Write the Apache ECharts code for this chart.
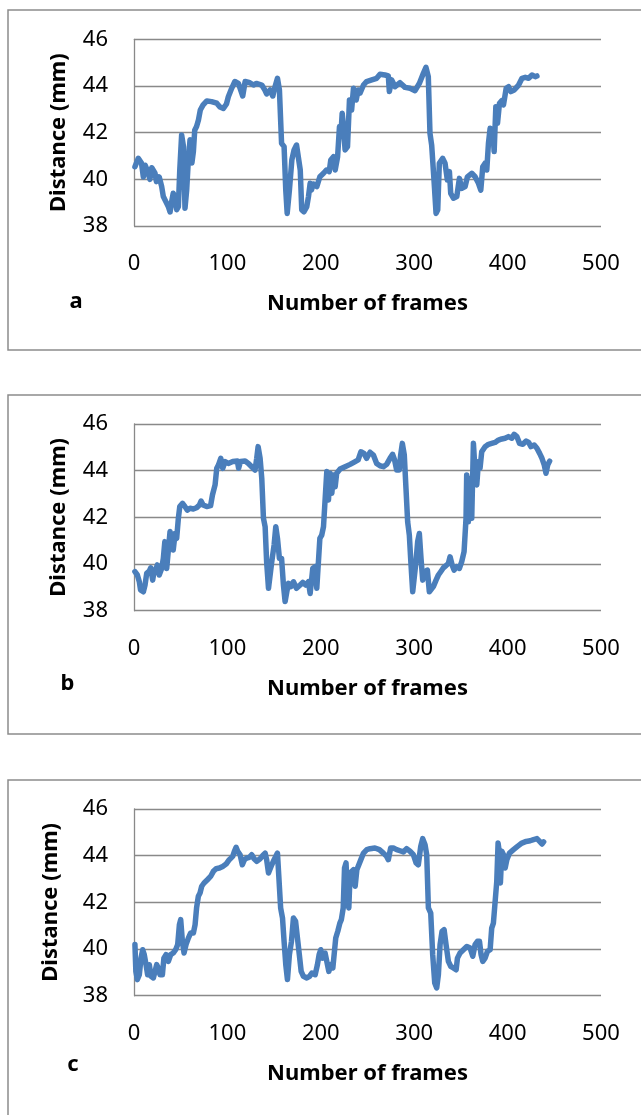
<!DOCTYPE html>
<html>
<head>
<meta charset="utf-8">
<script src="https://cdn.jsdelivr.net/npm/echarts@6/dist/echarts.min.js"></script>
<style>
html,body{margin:0;padding:0;background:#fff;}
#chart{width:641px;height:1115px;}
</style>
</head>
<body>
<div id="chart"></div>
<script>
// ---------- data ----------
const panelLetters = ['a', 'b', 'c'];
const xTitle = 'Number of frames';
const yTitle = 'Distance (mm)';
const xTicks = [0, 100, 200, 300, 400, 500];
const yTicks = [38, 40, 42, 44, 46];

const framesA = [1,4.6,8,10,12,15,17,19,22.5,24,27,29.6,31.4,33,35,36.8,38.6,40,42,44,45.7,47.5,49,51,53,54.6,56.4,58,60,62,63.6,65,67,69,71,74,78,83,88.6,92,95.7,99,101,104.6,108,111.8,113.6,116.4,119,124,127.9,131,136.8,140,142,145.7,148.6,151,153.6,155.7,158,160.7,162.5,164,166.4,169,171.4,174,176,178,179.6,182,185,186.8,188.6,190,192,195.7,199,202.9,206,209,210.7,213.6,215.4,218,220,221.4,222.9,224,226,228.6,230.7,233,235,237.9,240,242,245.7,249,254.6,259.8,263.4,268.7,272.3,273.4,275.9,279.5,284.8,290.2,295.5,300.9,305.5,309.8,312.6,315.1,316.9,318.7,321.2,323.4,325.2,326.9,330.5,333,335.5,337.7,339.1,342,345.6,348.4,350.9,354.5,357,361.6,365.2,368.8,371.3,373.4,375.9,377.7,379.5,381.3,384.2,385.6,387.4,389.2,391.3,393.8,395.6,398.5,401,403.5,407.1,411.8,415.4,418.9,422.5,426.1,429.6,431.4];
const distA = [40.54,40.9,40.7,40.1,40.6,40.3,40.0,40.5,40.26,39.9,40.1,39.7,39.26,39.2,38.97,38.83,38.6,38.97,39.4,39.26,38.7,38.83,40.4,41.9,41.4,38.76,39.54,40.7,41.7,40.7,41.2,42.1,42.26,42.54,42.97,43.19,43.36,43.33,43.26,43.1,43.04,43.23,43.54,43.9,44.19,44.11,44.19,43.57,44.19,44.14,44.04,44.11,44.04,43.83,43.66,43.83,43.57,43.97,44.33,43.83,41.54,41.4,39.54,38.54,39.54,40.83,41.26,41.47,41.47,40.4,38.69,38.61,38.83,39.26,39.83,39.54,39.8,39.69,40.11,40.26,40.4,40.33,40.83,40.97,40.4,40.97,42.26,41.83,42.83,42.4,41.26,41.4,43.4,42.97,43.9,43.4,43.83,43.69,44.04,44.19,44.26,44.33,44.5,44.47,44.43,43.76,44.26,43.97,44.14,43.94,43.9,43.8,44.11,44.54,44.8,44.4,41.97,41.47,39.97,38.54,38.69,40.69,40.9,40.69,39.97,40.33,39.4,39.19,39.26,40.04,39.61,39.69,40.11,40.26,40.11,39.83,39.54,40.54,40.69,40.4,41.54,42.19,42.11,41.19,43.11,42.4,43.26,43.37,43.19,43.9,43.97,43.76,43.83,44.04,44.33,44.37,44.33,44.47,44.4,44.43];

const framesB = [1,3.6,5.7,7,10,11.8,13.6,16.4,17.9,20,21.4,23.6,25,27,29.6,31.4,33,35,36.8,38.6,40,42,44,45.7,47.5,49,52,54.6,57,60,63.6,67,70,71.8,74,77.9,82,84,86.8,88.6,90.4,92.9,95,97.5,101,105.7,110.7,112,114,119,122.5,126,129.6,131.4,132.9,135,136.8,138.6,140.4,142,144,145.7,147.5,150,151.8,153.6,155.7,158,160,161.8,163.6,165.4,168,170.7,174,177.9,180.7,184,186.8,188.6,191.4,193.9,195.7,197.5,199,201,202.9,205,206.4,208.2,210,211.8,213.6,215.4,217,220.7,226,231.4,236.8,240,242.9,246.3,249,252.7,256.3,259.8,263.4,267,270.5,274.1,276.9,279,281.2,284,285.5,287.3,289.4,291.2,293,294.8,296.6,298.4,300.2,301.9,303.7,305.5,307.3,309.1,311.6,314.1,316.2,318,320.5,323.4,325.9,328.4,331.3,334.1,336.6,338.4,340.6,342.7,345.6,348.4,350.9,353.4,355.5,356.2,358,359.8,361.6,363.4,365.2,367,368.8,370.5,372.3,375.9,379.5,383,386.6,390.2,393.8,397.3,400.9,404.5,407.1,409.9,412.8,416.3,419.9,422.5,425,428.5,431.4,434.3,436.8,439.3,441.1,442.9,445];
const distB = [39.67,39.53,39.24,38.89,38.81,39.1,39.6,39.7,39.84,39.31,39.67,39.81,39.96,39.53,39.81,40.24,40.96,39.81,39.81,41.39,41.46,40.6,41.31,41.1,41.96,42.46,42.6,42.46,42.31,42.39,42.36,42.41,42.53,42.7,42.53,42.46,42.5,42.96,43.39,44.1,44.24,44.53,44.1,44.39,44.31,44.39,44.41,44.1,44.39,44.41,44.31,44.17,44.03,44.53,45.03,44.53,43.67,41.96,41.6,40.1,38.96,38.96,40.1,40.81,41.6,41.1,40.24,40.24,39.1,38.39,38.81,39.17,39.03,39.24,38.96,39.1,39.21,39.1,39.24,38.74,39.81,39.89,38.96,38.96,41.1,41.24,41.6,41.67,43.96,42.74,43.89,43.03,43.81,43.31,43.89,44.07,44.17,44.27,44.39,44.46,44.81,44.74,44.53,44.79,44.67,44.31,44.21,44.17,44.27,44.53,44.7,44.46,44.03,44.03,44.67,45.17,44.67,43.24,41.81,41.24,39.96,38.81,38.74,40.1,40.96,41.31,40.24,39.31,39.67,39.74,38.81,38.81,39.03,39.31,39.53,39.67,39.84,39.93,40.03,40.31,39.96,39.74,39.89,39.81,40.1,40.53,41.96,43.81,41.81,43.67,41.96,45.17,43.96,43.39,44.39,44.1,44.81,45.03,45.13,45.17,45.21,45.31,45.36,45.39,45.46,45.39,45.56,45.46,45.17,45.13,45.27,45.21,45.03,45.1,44.96,44.74,44.53,44.24,43.89,44.24,44.41];

const framesC = [1,2,3.6,5.7,7.5,9.3,11,12.9,14.6,16.4,18.2,20.7,22.5,24.3,26,27.9,30.4,32,34.3,36.8,39.3,42,44.6,46.8,48.6,50,51.8,53.6,55.7,58.2,60.7,63.6,65.4,67,68.9,70.7,72.5,75,78.6,82,85,87.9,91.4,95,98.6,102,105.7,107.5,109.3,111,113.6,116,118.2,120.7,123.6,126,128.6,131.4,135,137.9,140.4,142,144,145.7,147.5,150,151.8,153.6,155.4,157,159,160.7,162.5,164.3,166.4,168.6,170.7,173,175,177,179,181.4,185,187.9,190.4,194,196.4,198.2,200,202,204.6,206.4,208.6,210.7,212.9,214.6,216,218.2,220.4,222,224,225.4,227,228.6,230,231.4,233,235,236.8,238.6,240.7,242.9,245.7,249.3,252.7,258,262.7,267,270.5,272.3,274.8,277.7,281.2,284.8,288.4,291.9,295.5,299.1,302,304.4,307,309.1,311.6,313.4,315.2,317.7,319.8,322,324.1,325.9,327.7,329.8,332,334.1,336.6,339.1,342,344.9,346.3,349.1,352.7,356.3,359.9,362.7,365.2,367.7,369.9,371.6,373.4,375.9,378.4,381.3,383,384.8,386.6,388.4,389.8,391.3,392.3,393.8,395.6,397.4,399.2,402,406.3,410.6,415.3,419.9,424.2,427.8,431.4,434.3,436.8,438.6];
const distC = [40.19,39.04,38.69,38.9,39.61,39.97,39.76,39.33,38.9,39.33,38.83,38.76,39.04,39.33,39.19,38.9,38.9,39.61,39.76,39.47,39.76,39.83,39.97,40.19,41.04,41.26,40.33,39.83,40.19,40.47,40.69,40.69,41.04,41.76,42.26,42.4,42.69,42.83,42.97,43.11,43.33,43.44,43.47,43.54,43.64,43.83,43.97,44.19,44.36,44.19,44.04,43.61,43.83,43.9,43.93,44.04,43.87,43.76,43.87,44.01,44.11,43.83,43.26,43.21,43.61,43.83,43.76,44.11,44.11,41.76,41.33,40.33,39.33,38.69,39.76,40.33,41.33,41.19,40.47,39.76,39.04,38.83,38.76,38.83,38.97,38.9,39.33,39.76,39.97,39.61,39.83,39.76,39.04,39.33,39.19,39.19,40.47,40.76,41.11,41.26,41.76,43.47,43.69,42.33,41.76,43.26,43.19,43.4,42.69,43.4,43.47,43.83,44.11,44.26,44.3,44.33,44.26,44.11,43.97,43.83,44.33,44.33,44.26,44.21,44.16,44.3,44.19,44.04,43.69,43.61,44.4,44.73,44.47,44.04,41.76,41.54,39.76,38.54,38.33,38.9,40.19,40.76,40.83,40.19,39.47,39.26,39.19,39.11,39.61,39.83,39.97,40.11,40.04,39.69,40.19,40.33,40.33,39.76,39.47,39.61,39.9,39.97,40.9,41.11,41.11,42.9,44.54,44.11,42.83,44.19,44.04,43.47,43.83,44.11,44.26,44.4,44.54,44.61,44.64,44.69,44.73,44.61,44.5,44.59];

// ---------- chart ----------
const LINE = '#4a7ebb';
const GRIDC = '#898989';
const FONT = 'Noto Sans';
const frames = [framesA, framesB, framesC];
const dists = [distA, distB, distC];

const gridTops = [39.3, 424, 809];
const gridH = 186.7;
const yNameGaps = [64, 64, 72];
const letterPos = [[76, 302], [67.5, 684], [73, 1065]];
const boxes = [[8, 10, 340], [8, 395, 339], [8, 780, 400]];

const grids = [], xAxes = [], yAxes = [], series = [], graphics = [];
for (let i = 0; i < 3; i++) {
  grids.push({left: 134, top: gridTops[i], width: 467, height: gridH, containLabel: false});
  xAxes.push({
    type: 'value', gridIndex: i, min: xTicks[0], max: xTicks[xTicks.length - 1], interval: 100,
    name: xTitle, nameLocation: 'middle', nameGap: 67,
    nameTextStyle: {fontFamily: FONT, fontSize: 22, fontWeight: 'bold', color: '#000'},
    axisLine: {show: false}, axisTick: {show: false}, splitLine: {show: false},
    axisLabel: {fontFamily: FONT, fontSize: 22, color: '#000', margin: 27}
  });
  yAxes.push({
    type: 'value', gridIndex: i, min: yTicks[0], max: yTicks[yTicks.length - 1], interval: 2,
    name: yTitle, nameLocation: 'middle', nameGap: yNameGaps[i],
    nameTextStyle: {fontFamily: FONT, fontSize: 22, fontWeight: 'bold', color: '#000'},
    axisLine: {show: true, lineStyle: {color: GRIDC, width: 1.3}}, axisTick: {show: false},
    splitLine: {show: true, lineStyle: {color: GRIDC, width: 1.3}},
    axisLabel: {fontFamily: FONT, fontSize: 22, color: '#000', margin: 26}
  });
  series.push({
    type: 'line', xAxisIndex: i, yAxisIndex: i, showSymbol: false, symbol: 'none',
    data: frames[i].map((f, k) => [f, dists[i][k]]),
    lineStyle: {color: LINE, width: 5.5, join: 'round', cap: 'round'},
    animation: false
  });
  graphics.push({
    type: 'rect', shape: {x: boxes[i][0], y: boxes[i][1], width: 700, height: boxes[i][2]},
    style: {fill: 'none', stroke: '#8c8c8c', lineWidth: 1.5}, z: -1
  });
  graphics.push({
    type: 'text', x: letterPos[i][0], y: letterPos[i][1],
    style: {text: panelLetters[i], fontFamily: FONT, fontSize: 22, fontWeight: 'bold', fill: '#000',
            textAlign: 'center', textVerticalAlign: 'middle'}
  });
}

const chart = echarts.init(document.getElementById('chart'), null, {renderer: 'canvas'});
chart.setOption({
  animation: false,
  backgroundColor: '#fff',
  grid: grids, xAxis: xAxes, yAxis: yAxes, series: series, graphic: graphics
});
</script>
</body>
</html>
